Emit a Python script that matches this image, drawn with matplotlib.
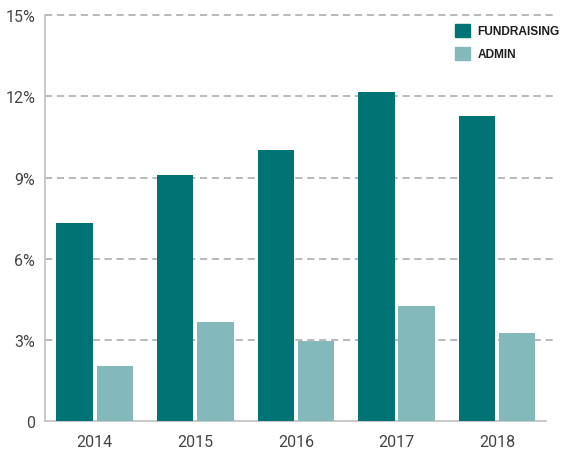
import numpy as np
import matplotlib
matplotlib.use("Agg")
import matplotlib.pyplot as plt
from matplotlib.patches import Patch

plt.rcParams['font.family'] = ['Roboto', 'DejaVu Sans']

# Data
years = ["2014", "2015", "2016", "2017", "2018"]
fundraising = [7.33, 9.08, 10.0, 12.16, 11.28]
admin = [2.06, 3.67, 2.97, 4.26, 3.27]
yticks = [0, 3, 6, 9, 12, 15]
ytick_labels = ["0", "3%", "6%", "9%", "12%", "15%"]

dark = "#007474"
light = "#84b9bc"

fig = plt.figure(figsize=(5.63, 4.52), dpi=100)
ax = fig.add_axes([45 / 563, 29.7 / 452, (545.7 - 45) / 563, (422.3 - 16) / 452])

x = np.arange(len(years))
w = 0.363
ax.bar(x - 0.2, fundraising, width=w, color=dark, zorder=3, label="FUNDRAISING")
ax.bar(x + 0.2, admin, width=w, color=light, zorder=3, label="ADMIN")

ax.set_xlim(-0.494, 4.483)
ax.set_ylim(0, 15)

# dashed gridlines, running a bit past the baseline on the right
for t in yticks[1:]:
    ax.axhline(t, xmin=0, xmax=(557 - 45) / (545.7 - 45), color="#b3b3b3",
               lw=1.3, ls=(0, (4, 2.6)), zorder=1, clip_on=False)

for s in ["top", "right"]:
    ax.spines[s].set_visible(False)
for s in ["left", "bottom"]:
    ax.spines[s].set_color("#c4c4c4")
    ax.spines[s].set_linewidth(1.3)

ax.set_yticks(yticks)
ax.set_yticklabels(ytick_labels)
ax.set_xticks(x)
ax.set_xticklabels(years)
ax.tick_params(axis="both", length=0, labelsize=11.5, colors="#444444")
ax.tick_params(axis="y", pad=7)
ax.tick_params(axis="x", pad=9)

handles = [Patch(color=dark, label="FUNDRAISING"), Patch(color=light, label="ADMIN")]
leg = ax.legend(handles=handles, loc="upper left", bbox_to_anchor=(444 / 563, 1 - 14 / 452),
                bbox_transform=fig.transFigure, frameon=False,
                handlelength=1.3, handleheight=1.3, handletextpad=0.62,
                labelspacing=0.8,
                prop={"family": "Liberation Sans", "size": 8.6, "weight": "bold"})
for t in leg.get_texts():
    t.set_color("#1e1e1e")

fig.savefig("out.png", dpi=100)
